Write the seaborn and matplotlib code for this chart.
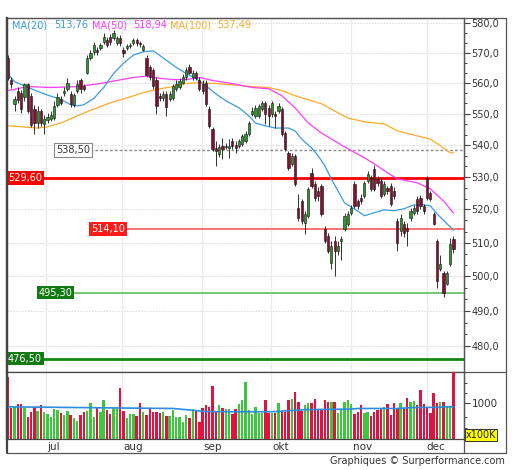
import matplotlib
matplotlib.use("Agg")
import matplotlib.pyplot as plt
import seaborn as sns
import numpy as np
from matplotlib.ticker import FixedLocator, FuncFormatter, NullFormatter
from matplotlib.lines import Line2D

# ---------------- data ----------------
opens = [568.2, 560.8, 553.2, 557.5, 556.8, 555.5, 559.5, 555.8, 551.5, 547.0,
         550.9, 546.7, 548.0, 548.3, 548.6, 552.8, 554.8, 556.8, 558.1, 556.5,
         552.8, 557.5, 560.8, 559.1, 563.4, 568.2, 570.3, 571.0, 571.6, 573.6,
         574.3, 575.3, 574.9, 573.3, 574.9, 571.0, 571.6, 572.3, 573.3, 574.3,
         573.3, 571.0, 568.2, 565.1, 564.1, 560.8, 555.8, 555.1, 556.5, 554.8,
         555.1, 558.1, 558.8, 560.1, 561.8, 565.1, 561.8, 563.1, 560.8, 559.8,
         560.1, 551.5, 545.1, 539.1, 537.2, 539.8, 539.4, 539.1, 541.3, 540.1,
         539.8, 540.4, 541.3, 543.5, 549.9, 549.3, 549.3, 551.5, 553.5, 551.9,
         549.9, 549.9, 550.9, 551.5, 543.9, 537.6, 534.1, 536.6, 520.5, 522.6,
         516.0, 518.1, 531.3, 527.9, 525.7, 527.3, 514.2, 512.1, 504.1, 510.6,
         507.6, 510.6, 514.2, 515.7, 519.0, 527.9, 522.6, 523.6, 524.2, 528.8,
         529.8, 532.6, 529.4, 528.8, 524.8, 526.7, 527.3, 525.7, 516.6, 513.6,
         515.7, 514.5, 517.5, 519.0, 523.3, 523.6, 521.1, 529.8, 525.1, 518.7,
         510.6, 502.3, 500.9, 497.9, 503.8, 511.2]
closes = [561.5, 559.5, 554.8, 554.5, 551.5, 559.5, 550.9, 546.4, 547.0, 550.9,
          547.0, 548.3, 549.0, 549.6, 552.5, 555.5, 553.5, 557.5, 560.1, 553.2,
          556.1, 559.8, 558.1, 558.1, 568.2, 569.9, 572.6, 570.3, 572.6, 575.3,
          572.6, 573.6, 576.6, 574.9, 573.3, 569.9, 572.3, 572.6, 574.3, 573.3,
          572.9, 572.3, 562.5, 561.8, 559.1, 552.5, 555.1, 556.5, 552.2, 556.5,
          559.1, 559.5, 560.5, 561.8, 564.1, 563.4, 563.4, 561.5, 558.1, 557.5,
          553.2, 546.1, 538.8, 538.2, 539.4, 538.8, 539.8, 539.8, 539.8, 539.1,
          541.3, 542.9, 543.5, 547.0, 550.9, 551.9, 552.5, 553.5, 549.9, 549.3,
          553.5, 549.3, 552.5, 543.5, 538.8, 532.9, 536.6, 527.9, 517.5, 516.6,
          518.7, 526.3, 527.3, 523.6, 524.2, 518.7, 510.6, 507.6, 509.1, 507.6,
          509.1, 511.2, 518.1, 518.7, 520.5, 521.1, 521.1, 522.6, 528.2, 531.0,
          526.3, 526.3, 528.2, 524.2, 527.9, 525.7, 521.7, 524.2, 510.0, 517.5,
          513.0, 513.6, 519.6, 520.5, 519.6, 521.1, 519.6, 523.6, 523.3, 515.7,
          498.8, 503.8, 495.3, 500.9, 509.7, 508.2]
highs = [569.2, 561.8, 555.8, 558.8, 557.8, 560.1, 560.1, 556.8, 552.8, 552.5,
         551.5, 549.6, 550.2, 550.9, 554.2, 556.8, 555.8, 558.8, 561.5, 557.5,
         556.8, 561.1, 561.5, 559.8, 569.2, 571.0, 573.6, 571.9, 573.3, 576.6,
         575.3, 576.3, 577.6, 575.6, 575.9, 571.9, 572.9, 573.3, 574.9, 574.9,
         573.9, 572.9, 569.2, 565.8, 564.8, 561.8, 556.8, 557.5, 557.5, 557.5,
         559.8, 560.8, 561.5, 562.8, 565.1, 566.2, 564.1, 563.8, 561.8, 560.8,
         561.1, 552.5, 545.8, 541.3, 540.4, 542.3, 540.7, 541.9, 542.3, 541.3,
         541.9, 543.5, 544.5, 547.7, 552.2, 552.8, 553.2, 554.2, 554.2, 552.8,
         554.2, 550.9, 553.5, 552.2, 544.5, 538.2, 537.6, 537.2, 524.8, 523.3,
         519.6, 527.0, 532.9, 528.8, 527.0, 527.9, 515.1, 513.0, 510.6, 512.1,
         510.6, 512.1, 519.0, 519.6, 521.4, 528.8, 523.3, 524.8, 528.8, 531.9,
         530.7, 533.8, 530.4, 529.8, 528.8, 527.3, 528.2, 527.0, 517.5, 518.7,
         516.6, 516.0, 520.5, 521.4, 524.2, 524.5, 521.7, 530.4, 525.7, 519.3,
         511.2, 506.2, 501.7, 501.7, 511.5, 512.1]
lows = [560.8, 558.5, 550.9, 553.5, 550.2, 554.2, 550.2, 545.8, 543.5, 545.4,
        546.1, 543.5, 547.0, 547.7, 548.0, 552.2, 552.8, 555.8, 557.5, 552.2,
        552.2, 556.8, 556.8, 557.5, 562.8, 567.5, 569.2, 569.2, 571.0, 572.9,
        571.9, 572.6, 574.3, 572.6, 572.3, 568.5, 571.0, 571.6, 572.6, 572.3,
        571.9, 570.6, 561.8, 560.8, 558.1, 549.9, 554.2, 554.2, 549.3, 554.2,
        554.5, 557.5, 558.1, 559.5, 561.1, 562.8, 561.1, 560.8, 557.5, 556.5,
        552.5, 545.4, 538.2, 533.5, 536.3, 535.7, 538.8, 536.0, 538.8, 537.6,
        539.1, 539.8, 540.7, 542.9, 549.3, 548.6, 548.6, 550.9, 546.7, 546.1,
        549.0, 545.4, 550.2, 542.9, 538.2, 532.2, 533.5, 527.3, 516.6, 515.7,
        512.7, 517.5, 526.7, 522.6, 522.6, 518.1, 510.0, 506.8, 502.3, 500.0,
        506.2, 504.7, 513.6, 515.1, 518.4, 520.5, 520.2, 521.7, 523.6, 528.2,
        525.7, 525.7, 527.3, 523.6, 524.2, 524.8, 521.1, 523.3, 507.6, 512.1,
        511.8, 509.1, 516.6, 518.4, 518.7, 520.2, 518.7, 523.0, 522.6, 515.4,
        496.5, 501.7, 493.9, 497.4, 503.2, 506.8]
volumes = [1733, 852, 898, 972, 972, 870, 620, 741, 898, 787,
           945, 759, 694, 620, 824, 806, 713, 667, 787, 667,
           592, 509, 667, 759, 787, 1009, 620, 852, 741, 1084,
           806, 685, 852, 852, 1427, 787, 574, 694, 694, 648,
           1009, 759, 667, 824, 759, 759, 731, 760, 648, 648,
           806, 602, 602, 481, 667, 574, 824, 787, 481, 852,
           945, 898, 1473, 787, 945, 852, 824, 833, 694, 824,
           972, 1102, 1593, 806, 700, 898,
           713, 713, 1084, 731, 713, 713, 991, 778, 759, 1102,
           1130, 1315, 1037, 787, 945, 1009, 991, 1130, 824, 824,
           1102, 1037, 1037, 1019, 713, 806, 1037, 1102, 963, 694,
           741, 945, 713, 741, 639, 759, 806, 833, 898, 972,
           667, 991, 852, 991, 852, 1158, 1037, 1056, 945, 1362,
           972, 852, 713, 1297, 991, 1037, 1037, 917, 917, 1900]

ma20_idx = [0, 2, 7, 11, 16, 19, 21, 23, 26, 29, 32, 35, 38, 41, 44, 45, 48, 51, 54, 57,
            60, 63, 66, 70, 73, 75, 78, 81, 85, 87, 89, 92, 94, 96, 98, 100, 102, 105, 108, 111,
            114, 117, 120, 123, 126, 128, 130, 133, 135]
ma20_val = [562.9, 560.4, 558.1, 556.4, 554.6, 552.9, 552.5, 552.9, 554.9, 558.5,
            563.1, 566.5, 569.2, 570.3, 570.6, 569.9, 567.5, 565.1, 563.1, 561.4,
            559.1, 556.4, 554.2, 551.9, 549.3, 547.0, 546.1, 545.4, 545.4, 544.5,
            541.9, 539.1, 536.6, 533.5, 529.4, 525.7, 522.0, 520.2, 518.1, 519.0,
            519.9, 519.6, 520.2, 521.4, 521.4, 521.1, 518.7, 515.7, 513.76]
ma50_idx = [0, 6, 13, 21, 28, 33, 38, 42, 46, 50, 54, 58, 62, 68, 74, 79, 83, 87, 91, 95,
            99, 103, 108, 111, 115, 118, 124, 128, 132, 135]
ma50_val = [557.5, 558.8, 558.5, 558.8, 559.8, 560.8, 561.8, 562.2, 561.5, 561.1,
            561.1, 561.8, 560.8, 559.8, 558.5, 558.1, 555.8, 551.9, 547.0, 543.8,
            541.3, 538.8, 536.0, 534.1, 531.3, 529.4, 528.2, 526.3, 522.6, 518.94]
ma100_idx = [0, 4, 9, 12, 16, 21, 26, 31, 36, 41, 46, 50, 54, 58, 63, 68, 74, 79, 83, 87,
             92, 95, 99, 103, 108, 114, 118, 124, 128, 131, 134, 135]
ma100_val = [546.1, 545.8, 545.4, 545.8, 547.0, 549.3, 551.5, 553.5, 555.1, 556.8,
             558.1, 558.8, 559.8, 560.1, 559.8, 559.4, 558.8, 558.5, 557.5, 555.8,
             554.2, 553.2, 550.9, 548.6, 547.4, 546.7, 544.5, 542.9, 541.9, 539.8,
             537.6, 537.49]
volma_idx = [0, 40, 50, 55, 60, 70, 80, 88, 90, 104, 106, 118, 122, 131, 132, 135]
volma_val = [898, 860, 852, 810, 765, 760, 760, 806, 820, 835, 852, 852, 875, 885, 898, 898]

month_grid = [11.5, 34.5, 58.8, 79.7, 104.0, 127.0]
month_label_pos = [13.9, 37.9, 62.1, 82.7, 107.6, 129.7]
month_labels = ["jul", "aug", "sep", "okt", "nov", "dec"]

price_ticks = [480, 490, 500, 510, 520, 530, 540, 550, 560, 570, 580]
levels = [529.60, 514.10, 495.30, 476.50]
level_text = ["529,60", "514,10", "495,30", "476,50"]
level_label_x = [0.0, 25.2, 9.2, 0.0]
ref_level = 538.50
legend_items = [("MA(20)", "513,76"), ("MA(50)", "518,94"), ("MA(100)", "537,49")]

# ---------------- styling ----------------
sns.set_theme(style="white")
plt.rcParams["font.family"] = ["DejaVu Sans"]

W, H = 512, 470
fig = plt.figure(figsize=(W / 100, H / 100), dpi=100)
fig.patch.set_facecolor("white")

def fx(px):
    return px / W

def fy(py):
    return 1 - py / H

ax = fig.add_axes([fx(7), fy(372), fx(464) - fx(7), fy(18) - fy(372)])
axv = fig.add_axes([fx(7), fy(439), fx(464) - fx(7), fy(372) - fy(439)], sharex=ax)

C_RED_BODY = "#870e2e"
C_GRN_BODY = "#2c962d"
C_RED_VOL = "#e0123f"
C_GRN_VOL = "#3cc83c"
C_MA20 = "#3a9be0"
C_MA50 = "#ff3cff"
C_MA100 = "#ffaa2a"
TXT = "#333333"

n = len(closes)
idx = np.arange(n)

ax.set_yscale("log")
ax.set_ylim(472.8, 581.7)
ax.set_xlim(-0.3, 138.2)

# grid
for v in price_ticks:
    ax.axhline(v, color="#d8d8d8", lw=0.7, ls=(0, (1.5, 1.5)), zorder=0)
for g in month_grid:
    ax.axvline(g, color="#ebebeb", lw=0.9, zorder=0)
    axv.axvline(g, color="#ebebeb", lw=0.9, zorder=0)

# level lines
ax.hlines(levels[0], -0.3, 138.2, color="#ff0000", lw=2.0, zorder=2)
ax.hlines(levels[1], 35.8, 138.2, color="#ff5a5a", lw=1.2, zorder=2)
ax.hlines(levels[2], 19.7, 138.2, color="#5cbf5c", lw=1.2, zorder=2)
ax.hlines(levels[3], -0.3, 138.2, color="#138a13", lw=2.0, zorder=2)
ax.hlines(ref_level, 24.8, 138.2, color="#8a8a8a", lw=1.0, ls=(0, (2, 1.5)), zorder=2)

# moving averages
sns.lineplot(x=ma100_idx, y=ma100_val, ax=ax, color=C_MA100, lw=0.9, zorder=3)
sns.lineplot(x=ma50_idx, y=ma50_val, ax=ax, color=C_MA50, lw=0.9, zorder=3)
sns.lineplot(x=ma20_idx, y=ma20_val, ax=ax, color=C_MA20, lw=0.9, zorder=3)

# candles
o = np.array(opens); c = np.array(closes); h = np.array(highs); l = np.array(lows)
up = c >= o
ax.vlines(idx, l, h, color="#111111", lw=0.6, zorder=4)
bottoms = np.minimum(o, c)
heights = np.maximum(np.abs(c - o), 0.35)
ax.bar(idx, heights, bottom=bottoms, width=0.68,
       color=np.where(up, C_GRN_BODY, C_RED_BODY), edgecolor="#111111", linewidth=0.4, zorder=5)

# level labels
lab_colors = ["#ff0000", "#ff1a1a", "#137a13", "#137a13"]
for v, t, xx, col in zip(levels, level_text, level_label_x, lab_colors):
    ax.text(xx, v, t, color="white", fontsize=7, va="center", ha="left", zorder=6,
            bbox=dict(boxstyle="square,pad=0.18", fc=col, ec="none"))
ax.text(14.6, ref_level, "538,50", color=TXT, fontsize=7, va="center", ha="left", zorder=6,
        bbox=dict(boxstyle="square,pad=0.18", fc="white", ec="#888888", lw=0.8))

# y axis (right)
ax.yaxis.tick_right()
ax.yaxis.set_major_locator(FixedLocator(price_ticks))
minor = []
for v in price_ticks[:-1]:
    minor += [v + 10 / 3, v + 20 / 3]
ax.yaxis.set_minor_locator(FixedLocator(minor))
ax.yaxis.set_major_formatter(FuncFormatter(lambda v, p: f"{v:.1f}".replace(".", ",")))
ax.yaxis.set_minor_formatter(NullFormatter())
ax.tick_params(axis="y", which="major", direction="out", length=4, width=0.8, color="#444444",
               labelsize=7, labelcolor=TXT, pad=1.5, right=True, left=False)
ax.tick_params(axis="y", which="minor", direction="out", length=2.5, width=0.7, color="#444444",
               right=True, left=False)
ax.tick_params(axis="x", which="both", bottom=False, labelbottom=False)
for s in ["top", "right", "bottom"]:
    ax.spines[s].set_color("#555555"); ax.spines[s].set_linewidth(0.9)
ax.spines["left"].set_color("#444444"); ax.spines["left"].set_linewidth(1.6)
ax.set_xlabel(""); ax.set_ylabel("")

# volume pane
vol_cols = np.where(up, C_GRN_VOL, C_RED_VOL)
axv.bar(idx, volumes, width=0.72, color=vol_cols, linewidth=0, zorder=3)
sns.lineplot(x=volma_idx, y=volma_val, ax=axv, color="#2b8de0", lw=1.2, zorder=4)
axv.set_ylim(0, 1870)
axv.yaxis.tick_right()
axv.yaxis.set_major_locator(FixedLocator([1000]))
axv.yaxis.set_minor_locator(FixedLocator([306, 611, 1278, 1556, 1861]))
axv.yaxis.set_major_formatter(FuncFormatter(lambda v, p: f"{v:.0f}"))
axv.yaxis.set_minor_formatter(NullFormatter())
axv.tick_params(axis="y", which="major", direction="out", length=4, width=0.8, color="#444444",
                labelsize=7.5, labelcolor=TXT, pad=1.5, right=True, left=False)
axv.tick_params(axis="y", which="minor", direction="out", length=2.5, width=0.7, color="#444444",
                right=True, left=False)
axv.set_xticks(month_label_pos)
axv.set_xticklabels(month_labels)
axv.tick_params(axis="x", which="both", length=0, labelsize=7.5, labelcolor=TXT, pad=2)
for s in ["top", "right", "bottom"]:
    axv.spines[s].set_color("#444444"); axv.spines[s].set_linewidth(0.9)
axv.spines["left"].set_color("#444444"); axv.spines["left"].set_linewidth(1.6)
axv.set_xlabel(""); axv.set_ylabel("")
axv.set_xlim(-0.3, 138.2)

# frame lines
def fline(x0, y0, x1, y1, col="#555555", lw=0.9):
    fig.add_artist(Line2D([fx(x0), fx(x1)], [fy(y0), fy(y1)], color=col, lw=lw))

fline(7, 18, 506, 18)
fline(506, 18, 506, 453)
fline(7, 453, 506, 453)
fline(7, 18, 7, 453, col="#444444", lw=1.6)
fline(464, 18, 464, 453)
fline(464, 372, 506, 372)

# legend text
leg_x = [(12, 54), (92, 133), (170, 217)]
for (name, val), (x1, x2), col in zip(legend_items, leg_x, [C_MA20, C_MA50, C_MA100]):
    fig.text(fx(x1), fy(25), name, color=col, fontsize=7, va="center", ha="left")
    fig.text(fx(x2), fy(25), val, color=col, fontsize=7, va="center", ha="left")

fig.text(fx(481), fy(435), "x100K", color="#222222", fontsize=7, va="center", ha="center",
         bbox=dict(boxstyle="square,pad=0.12", fc="#ffff00", ec="#333333", lw=0.7))
fig.text(fx(505), fy(461), "Graphiques \u00a9 Surperformance.com", color=TXT, fontsize=7,
         va="center", ha="right")

fig.savefig("out.png", dpi=100, facecolor="white")
